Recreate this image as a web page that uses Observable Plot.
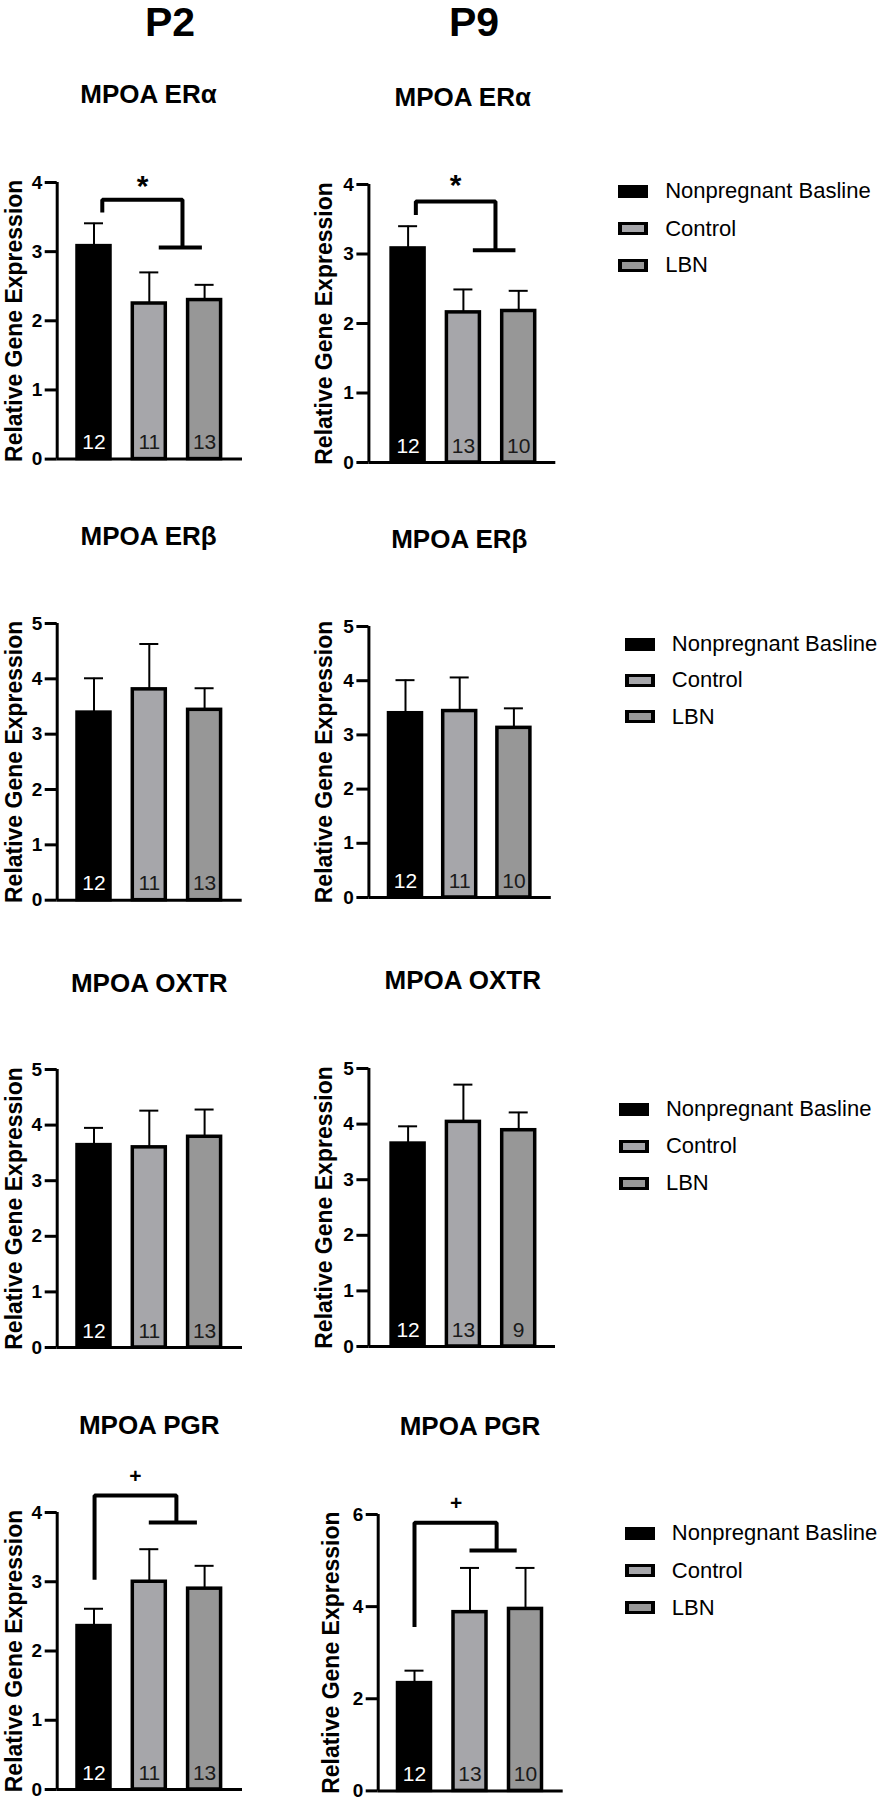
<!DOCTYPE html>
<html><head><meta charset="utf-8">
<script src="https://cdn.jsdelivr.net/npm/d3@7"></script>
<script src="https://cdn.jsdelivr.net/npm/@observablehq/plot@0.6"></script>
<style>
html,body{margin:0;padding:0;background:#fff;}
#root{position:relative;width:880px;height:1800px;overflow:hidden;font-family:"Liberation Sans",Arial,sans-serif;color:#000;background:#fff;}
.abs{position:absolute;white-space:nowrap;}
.hdr{font-size:41px;font-weight:bold;line-height:41px;width:200px;text-align:center;}
.ttl{font-size:26px;font-weight:bold;line-height:26px;width:300px;text-align:center;}
.leg{display:flex;align-items:center;height:30px;font-size:22px;}
.sw{box-sizing:border-box;width:30px;height:13px;margin-right:17px;flex:none;}
</style></head><body><div id="root"></div>
<script>
// ---------- data ----------
const groups = ["Nonpregnant Basline", "Control", "LBN"];
const groupColors = ["#000000", "#a6a6aa", "#979797"];
const columnLabels = ["P2", "P9"];
const geneTitles = ["MPOA ERα", "MPOA ERβ", "MPOA OXTR", "MPOA PGR"];
const yLabel = "Relative Gene Expression";

const ticks4 = [0, 1, 2, 3, 4];
const ticks5 = [0, 1, 2, 3, 4, 5];
const ticks6 = [0, 2, 4, 6];

// P2
const erAlphaP2Mean = [3.08, 2.25, 2.30], erAlphaP2Sem = [0.33, 0.45, 0.22], erAlphaP2N = [12, 11, 13];
const erBetaP2Mean  = [3.39, 3.81, 3.44], erBetaP2Sem  = [0.62, 0.82, 0.39], erBetaP2N  = [12, 11, 13];
const oxtrP2Mean    = [3.64, 3.60, 3.79], oxtrP2Sem    = [0.31, 0.66, 0.49], oxtrP2N    = [12, 11, 13];
const pgrP2Mean     = [2.36, 3.00, 2.90], pgrP2Sem     = [0.25, 0.47, 0.33], pgrP2N     = [12, 11, 13];
// P9
const erAlphaP9Mean = [3.08, 2.16, 2.18], erAlphaP9Sem = [0.32, 0.33, 0.29], erAlphaP9N = [12, 13, 10];
const erBetaP9Mean  = [3.40, 3.44, 3.13], erBetaP9Sem  = [0.61, 0.62, 0.36], erBetaP9N  = [12, 11, 10];
const oxtrP9Mean    = [3.65, 4.04, 3.89], oxtrP9Sem    = [0.31, 0.67, 0.32], oxtrP9N    = [12, 13, 9];
const pgrP9Mean     = [2.34, 3.88, 3.95], pgrP9Sem     = [0.27, 0.96, 0.89], pgrP9N     = [12, 13, 10];

// significance brackets (x in group-index units, y in data units)
const erAlphaP2Sig = {symbol: "*", bx: [0.15, 0.15, 1.60, 1.60], by: [3.565, 3.75, 3.75, 3.06], barX: [1.18, 1.96], barY: 3.06, mx: 0.88, my: 3.81};
const erAlphaP9Sig = {symbol: "*", bx: [0.14, 0.14, 1.58, 1.58], by: [3.56, 3.755, 3.755, 3.055], barX: [1.18, 1.95], barY: 3.055, mx: 0.86, my: 3.85};
const pgrP2Sig = {symbol: "+", bx: [0.01, 0.01, 1.49, 1.49], by: [3.03, 4.245, 4.245, 3.855], barX: [1.0, 1.87], barY: 3.855, mx: 0.75, my: 4.43};
const pgrP9Sig = {symbol: "+", bx: [0.0, 0.0, 1.48, 1.48], by: [3.56, 5.82, 5.82, 5.22], barX: [1.0, 1.85], barY: 5.22, mx: 0.75, my: 6.09};

// ---------- layout ----------
const root = document.getElementById("root");
function addDiv(cls, text, left, top) {
  const d = document.createElement("div");
  d.className = "abs " + cls;
  d.textContent = text;
  d.style.left = left + "px";
  d.style.top = top + "px";
  root.appendChild(d);
  return d;
}

// column headers (baseline ~37)
addDiv("hdr", columnLabels[0], 170 - 100, 37.2 - 0.8465 * 41);
addDiv("hdr", columnLabels[1], 474 - 100, 37.2 - 0.8465 * 41);

const panels = [
  {title: geneTitles[0], mean: erAlphaP2Mean, sem: erAlphaP2Sem, n: erAlphaP2N, ticks: ticks4, sig: erAlphaP2Sig,
   L: {left: 0, axisX: 56.7, labelX: 21, end: 242, c0: 93.5, step: 55.3, yTop: 181.7, y0: 458.3, tx: 148.5, tb: 103}},
  {title: geneTitles[0], mean: erAlphaP9Mean, sem: erAlphaP9Sem, n: erAlphaP9N, ticks: ticks4, sig: erAlphaP9Sig,
   L: {left: 300, axisX: 368.4, labelX: 331.4, end: 555.3, c0: 407.6, step: 55.3, yTop: 184.3, y0: 462.3, tx: 462.8, tb: 106},
   legend: {x: 618.2, ys: [191, 228.5, 265]}},
  {title: geneTitles[1], mean: erBetaP2Mean, sem: erBetaP2Sem, n: erBetaP2N, ticks: ticks5,
   L: {left: 0, axisX: 56.7, labelX: 21, end: 241.7, c0: 93.5, step: 55.3, yTop: 623.3, y0: 900, tx: 148.6, tb: 545}},
  {title: geneTitles[1], mean: erBetaP9Mean, sem: erBetaP9Sem, n: erBetaP9N, ticks: ticks5,
   L: {left: 300, axisX: 368.4, labelX: 331.4, end: 550.8, c0: 405, step: 54.2, yTop: 625.7, y0: 896.7, tx: 459.3, tb: 548},
   legend: {x: 624.8, ys: [644, 680, 716.7]}},
  {title: geneTitles[2], mean: oxtrP2Mean, sem: oxtrP2Sem, n: oxtrP2N, ticks: ticks5,
   L: {left: 0, axisX: 56.7, labelX: 21, end: 242, c0: 93.5, step: 55.3, yTop: 1069.3, y0: 1347.3, tx: 149.2, tb: 991.7}},
  {title: geneTitles[2], mean: oxtrP9Mean, sem: oxtrP9Sem, n: oxtrP9N, ticks: ticks5,
   L: {left: 300, axisX: 368.4, labelX: 331.4, end: 555, c0: 407.6, step: 55.3, yTop: 1067.7, y0: 1345.7, tx: 462.8, tb: 989.3},
   legend: {x: 618.9, ys: [1109, 1146, 1183.3]}},
  {title: geneTitles[3], mean: pgrP2Mean, sem: pgrP2Sem, n: pgrP2N, ticks: ticks4, sig: pgrP2Sig,
   L: {left: 0, axisX: 56.7, labelX: 21, end: 242, c0: 93.5, step: 55.3, yTop: 1512.3, y0: 1789.3, tx: 149.2, tb: 1434}},
  {title: geneTitles[3], mean: pgrP9Mean, sem: pgrP9Sem, n: pgrP9N, ticks: ticks6, sig: pgrP9Sig,
   L: {left: 300, axisX: 377.7, labelX: 338.3, end: 562.7, c0: 414, step: 55.5, yTop: 1514.3, y0: 1790.7, tx: 470, tb: 1435},
   legend: {x: 624.8, ys: [1533.3, 1570.7, 1607.7]}}
];

function drawPanel(p) {
  const L = p.L;
  const mt = 70, mb = 8, width = 300;
  const svgTop = L.yTop - mt;
  const height = L.y0 + mb - svgTop;
  const ml = L.axisX - L.left, mr = L.left + width - L.end;
  const xd = [(L.axisX - L.c0) / L.step, (L.end - L.c0) / L.step];
  const yMax = p.ticks[p.ticks.length - 1];
  const rows = p.mean.map((m, i) => ({i, group: groups[i], mean: m, top: m + p.sem[i], n: p.n[i]}));
  const px = v => v / L.step;          // pixels -> x-scale units
  const hw = px(16.5), cap = px(9.5), tickLen = px(12);

  const marks = [
    // error bars (upper only)
    Plot.ruleX(rows, {x: "i", y1: "mean", y2: "top", stroke: "black", strokeWidth: 2}),
    Plot.ruleY(rows, {y: "top", x1: d => d.i - cap, x2: d => d.i + cap, stroke: "black", strokeWidth: 2}),
    // bars
    Plot.rectY(rows, {x1: d => d.i - hw, x2: d => d.i + hw, y1: 0, y2: "mean", fill: "group", stroke: "black", strokeWidth: 3.5}),
    // sample sizes
    Plot.text(rows.filter(d => d.i === 0), {x: "i", y: 0, text: d => String(d.n), dy: -10, lineAnchor: "bottom", fill: "white", fontSize: 21}),
    Plot.text(rows.filter(d => d.i > 0), {x: "i", y: 0, text: d => String(d.n), dy: -10, lineAnchor: "bottom", fill: "#1a1a1a", fontSize: 21}),
    // axes
    Plot.ruleX([xd[0]], {y1: 0, y2: yMax, stroke: "black", strokeWidth: 3}),
    Plot.ruleY([0], {stroke: "black", strokeWidth: 3}),
    Plot.ruleY(p.ticks, {x1: xd[0] - tickLen, x2: xd[0], stroke: "black", strokeWidth: 3}),
    Plot.text(p.ticks, {x: xd[0], y: d => d, text: d => String(d), textAnchor: "end", dx: -15,
                fontSize: 19, fontWeight: "bold", fill: "black", ariaLabel: "yticklabels"}),
    Plot.text([yLabel], {text: d => d, frameAnchor: "left", textAnchor: "middle", rotate: -90,
                dx: -(L.axisX - L.labelX), lineAnchor: "bottom",
                fontSize: 23, fontWeight: "bold", fill: "black", ariaLabel: "ylabel"})
  ];
  if (p.sig) {
    const s = p.sig;
    marks.push(
      Plot.line(s.bx.map((x, k) => ({x, y: s.by[k]})), {x: "x", y: "y", stroke: "black", strokeWidth: 4, strokeLinejoin: "miter", strokeLinecap: "butt"}),
      Plot.ruleY([s.barY], {x1: s.barX[0], x2: s.barX[1], stroke: "black", strokeWidth: 4}),
      Plot.text([s.symbol], {text: d => d, x: s.mx, y: s.my, lineAnchor: "bottom", fill: "black",
                fontSize: s.symbol === "*" ? 30 : 21, fontWeight: "bold"})
    );
  }

  const svg = Plot.plot({
    width, height, marginLeft: ml, marginRight: mr, marginTop: mt, marginBottom: mb,
    x: {domain: xd, axis: null},
    y: {domain: [0, yMax], axis: null},
    color: {domain: groups, range: groupColors},
    style: {fontFamily: '"Liberation Sans", Arial, sans-serif', background: "transparent", overflow: "visible"},
    marks
  });
  const sel = d3.select(svg);
  sel.selectAll('g[aria-label="ylabel"] text').style("word-spacing", "5px").style("letter-spacing", "0.5px");
  sel.selectAll('g[aria-label="yticklabels"] text').attr("font-size", 19).attr("font-weight", 700);
  svg.style.position = "absolute";
  svg.style.left = L.left + "px";
  svg.style.top = svgTop + "px";
  svg.style.maxWidth = "none";
  root.appendChild(svg);

  addDiv("ttl", p.title, L.tx - 150, L.tb - 0.8465 * 26);

  if (p.legend) {
    groups.forEach((g, k) => {
      const row = addDiv("leg", "", p.legend.x, p.legend.ys[k] - 15);
      const sw = document.createElement("span");
      sw.className = "sw";
      sw.style.background = groupColors[k];
      if (k > 0) {
        sw.style.border = "3.5px solid #000";
        sw.style.borderLeftWidth = "4px";
        sw.style.borderRightWidth = "4px";
      }
      row.appendChild(sw);
      const t = document.createElement("span");
      t.textContent = g;
      row.appendChild(t);
    });
  }
}

panels.forEach(drawPanel);
</script></body></html>
